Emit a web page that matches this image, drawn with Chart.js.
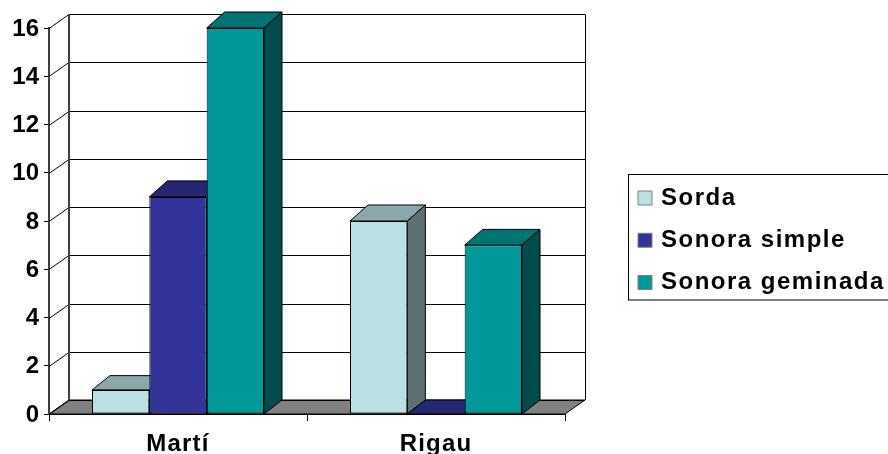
<!DOCTYPE html>
<html>
<head>
<meta charset="utf-8">
<script src="https://cdn.jsdelivr.net/npm/chart.js@4"></script>
<style>
    html, body { margin: 0; padding: 0; background: #fff; overflow: hidden; }
    canvas { display: block; }
</style>
</head>
<body>
<canvas id="chartConsonantes" width="888" height="454"></canvas>
<script>
const categorias = ['Martí', 'Rigau'];
const sorda = [1, 8];
const sonoraSimple = [9, 0];
const sonoraGeminada = [16, 7];

const coloresFrente = ['#BBE0E3', '#333399', '#009999'];
const coloresTecho = ['#8CA8AA', '#262673', '#007373'];
const coloresLado = ['#5E7072', '#1A1A4D', '#004D4D'];

const fondoX = 20;
const fondoY = 14;
const barraX = 18;
const fuente = { family: '"Liberation Sans", Arial, sans-serif', size: 24, weight: 'bold' };

function poligono(ctx, puntos, relleno, trazo) {
    ctx.beginPath();
    puntos.forEach(p => ctx.lineTo(p[0], p[1]));
    ctx.closePath();
    if (relleno) {
        ctx.fillStyle = relleno;
        ctx.fill();
    }
    ctx.strokeStyle = trazo;
    ctx.lineWidth = 1;
    ctx.stroke();
}

// the canvas has no letter-spacing option for ticks or legend, so it is set around their draw
function conEspaciado(caja, metodo, px) {
    const original = caja[metodo];
    caja[metodo] = function (...args) {
        this.ctx.letterSpacing = px;
        original.apply(this, args);
        this.ctx.letterSpacing = '0px';
    };
}

const pared3d = {
    id: 'pared3d',
    afterLayout(chart) {
        // legend sits outside the plot, to the right
        const l = chart.legend;
        l.left = 622.75;
        l.right = 888;
        l.top = 167.75;
        l.bottom = 340;
        if (!chart.$espaciado) {
            conEspaciado(l, 'draw', '1.5px');
            conEspaciado(chart.scales.x, 'drawLabels', '1.2px');
            chart.$espaciado = true;
        }
    },
    beforeDatasetsDraw(chart) {
        const ctx = chart.ctx;
        const { left, right } = chart.chartArea;
        const y = chart.scales.y;
        const base = y.getPixelForValue(0);
        ctx.save();

        // floor
        poligono(ctx, [[left, base], [right, base], [right + fondoX, base - fondoY], [left + fondoX, base - fondoY]], '#808080', '#000');

        // back wall: grid lines and their diagonals down to the axis
        ctx.lineWidth = 1;
        ctx.strokeStyle = '#000';
        y.ticks.forEach(t => {
            const py = Math.round(y.getPixelForValue(t.value)) + 0.5;
            ctx.beginPath();
            ctx.moveTo(left, py);
            ctx.lineTo(left + fondoX, py - fondoY);
            ctx.lineTo(right + fondoX, py - fondoY);
            ctx.stroke();
        });
        const arriba = Math.round(y.getPixelForValue(16)) + 0.5 - fondoY;
        ctx.beginPath();
        ctx.moveTo(right + fondoX + 0.5, arriba);
        ctx.lineTo(right + fondoX + 0.5, base - fondoY);
        ctx.stroke();
        ctx.strokeStyle = '#404040';
        ctx.lineWidth = 2;
        ctx.beginPath();
        ctx.moveTo(left + fondoX, arriba);
        ctx.lineTo(left + fondoX, base - fondoY);
        ctx.stroke();

        // top and side faces, the library paints the fronts afterwards
        chart.data.datasets.forEach((ds, i) => {
            chart.getDatasetMeta(i).data.forEach((barra, j) => {
                const iz = barra.x - barra.width / 2;
                const de = barra.x + barra.width / 2;
                const alto = Math.min(16, fondoY + ds.data[j] / 4);
                poligono(ctx, [[iz, barra.y], [de, barra.y], [de + barraX, barra.y - alto], [iz + barraX, barra.y - alto]], coloresTecho[i], '#000');
                if (ds.data[j] > 0) {
                    poligono(ctx, [[de, barra.y], [de + barraX, barra.y - alto], [de + barraX, base - fondoY], [de, base]], coloresLado[i], '#000');
                }
            });
        });
        ctx.restore();
    },
    afterDraw(chart) {
        const ctx = chart.ctx;
        ctx.save();
        ctx.strokeStyle = '#000';
        ctx.lineWidth = 1;
        ctx.strokeRect(628.5, 174.5, 264, 125.5);
        ctx.restore();
    }
};

new Chart(document.getElementById('chartConsonantes'), {
    type: 'bar',
    data: {
        labels: categorias,
        datasets: [
            { label: 'Sorda', data: sorda, backgroundColor: coloresFrente[0] },
            { label: 'Sonora simple', data: sonoraSimple, backgroundColor: coloresFrente[1] },
            { label: 'Sonora geminada', data: sonoraGeminada, backgroundColor: coloresFrente[2] }
        ].map(d => ({ ...d, borderColor: '#000', borderWidth: 1, borderSkipped: false }))
    },
    options: {
        responsive: false,
        animation: false,
        categoryPercentage: 2 / 3,
        barPercentage: 1,
        layout: { padding: { top: 28, right: 323 } },
        scales: {
            x: {
                afterFit: s => { s.height = 40; },
                border: { color: '#000', width: 1 },
                grid: { offset: true, drawOnChartArea: false, tickLength: 7, tickColor: '#000' },
                ticks: { color: '#000', font: fuente, padding: 9, maxRotation: 0 }
            },
            y: {
                min: 0,
                max: 16,
                afterFit: s => { s.width = 49; },
                border: { color: '#404040', width: 2 },
                grid: { drawOnChartArea: false, tickLength: 5, tickColor: '#000' },
                ticks: { stepSize: 2, color: '#000', font: fuente, padding: 5, labelOffset: 1 }
            }
        },
        plugins: {
            tooltip: { enabled: false },
            legend: {
                position: 'chartArea',
                align: 'start',
                labels: {
                    color: '#000',
                    font: fuente,
                    usePointStyle: true,
                    pointStyle: 'rect',
                    boxWidth: 8,
                    boxHeight: 14,
                    padding: 18.25,
                    generateLabels: chart => Chart.defaults.plugins.legend.labels.generateLabels(chart)
                        .map(item => ({ ...item, strokeStyle: '#808080' }))
                }
            }
        }
    },
    plugins: [pared3d]
});
</script>
</body>
</html>
